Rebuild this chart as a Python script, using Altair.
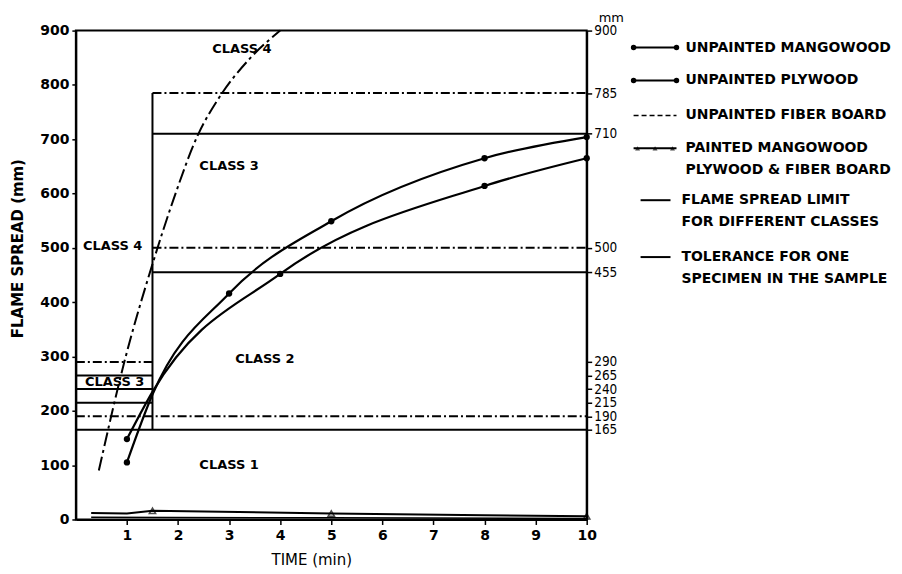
import altair as alt
import pandas as pd

# ---- data ----
mango_t = [1, 1.5, 3, 5, 8, 10]
mango_s = [105, 230, 416, 549, 665, 704]
mango_mark = [True, False, True, True, True, True]

ply_t = [1, 1.5, 4, 8, 10]
ply_s = [148, 235, 452, 614, 665]
ply_mark = [True, False, True, True, True]

fiber_t = [0.45, 0.96, 1.5, 1.9, 2.4, 2.8, 3.4, 4.0]
fiber_s = [90, 294, 470, 586, 710, 776, 848, 900]

painted_t = [0.3, 1, 1.5, 5, 8, 10]
painted_s = [12, 11, 16, 11, 8, 6]
painted_mark = [False, False, True, True, False, True]

painted2_t = [0.3, 5, 10]
painted2_s = [4, 3, 2]

limit_from = [0, 0, 0, 0, 1.5, 1.5]
limit_to = [10, 1.5, 1.5, 1.5, 10, 10]
limit_y = [165, 215, 240, 265, 455, 710]

tol_from = [0, 0, 1.5, 1.5]
tol_to = [10, 1.5, 10, 10]
tol_y = [190, 290, 500, 785]

vert_x = [1.5]
vert_y1 = [165]
vert_y2 = [785]

class_labels = ["CLASS 4", "CLASS 3", "CLASS 4", "CLASS 3", "CLASS 2", "CLASS 1"]
class_x = [3.25, 3.0, 0.72, 0.76, 3.7, 3.0]
class_y = [867, 650, 503, 253, 296, 100]

left_ticks = [0, 100, 200, 300, 400, 500, 600, 700, 800, 900]
right_ticks = [165, 190, 215, 240, 265, 290, 455, 500, 710, 785, 900]
x_ticks = [1, 2, 3, 4, 5, 6, 7, 8, 9, 10]

legend_labels = [
    ["UNPAINTED MANGOWOOD"],
    ["UNPAINTED PLYWOOD"],
    ["UNPAINTED FIBER BOARD"],
    ["PAINTED MANGOWOOD", "PLYWOOD & FIBER BOARD"],
    ["FLAME SPREAD LIMIT", "FOR DIFFERENT CLASSES"],
    ["TOLERANCE FOR ONE", "SPECIMEN IN THE SAMPLE"],
]

FONT = "DejaVu Sans"
W, H = 512, 490

xs = alt.Scale(domain=[0, 10], nice=False)
ys = alt.Scale(domain=[0, 900], nice=False)

XAX = alt.Axis(
    values=x_ticks, title="TIME (min)", grid=False, tickSize=5, labelPadding=4,
    labelFlush=False,
    labelFont=FONT, labelFontSize=14, labelFontWeight="bold", labelColor="black",
    titleFont=FONT, titleFontSize=15, titleFontWeight="normal", titleColor="black",
    titleX=236, titleY=40, titleBaseline="middle",
    domainColor="black", domainWidth=2, tickColor="black", tickWidth=1.5)

mango = pd.DataFrame({"t": mango_t, "s": mango_s, "m": mango_mark})
ply = pd.DataFrame({"t": ply_t, "s": ply_s, "m": ply_mark})
fiber = pd.DataFrame({"t": fiber_t, "s": fiber_s})
painted = pd.DataFrame({"t": painted_t, "s": painted_s, "m": painted_mark})
painted2 = pd.DataFrame({"t": painted2_t, "s": painted2_s})
limits = pd.DataFrame({"a": limit_from, "b": limit_to, "y": limit_y})
tols = pd.DataFrame({"a": tol_from, "b": tol_to, "y": tol_y})
verts = pd.DataFrame({"x": vert_x, "y1": vert_y1, "y2": vert_y2})
classes = pd.DataFrame({"x": class_x, "y": class_y, "label": class_labels})


def xq(field):
    return alt.X(f"{field}:Q", scale=xs, axis=XAX)


def yq(field):
    return alt.Y(f"{field}:Q", scale=ys, axis=None)


X = xq("t")
Y = yq("s")

# axes carrier layers
left_axis = alt.Chart(pd.DataFrame({"t": [0], "s": [0]})).mark_point(opacity=0).encode(
    x=X,
    y=alt.Y("s:Q", scale=ys, axis=alt.Axis(
        values=left_ticks, title="FLAME SPREAD (mm)", grid=False, tickSize=4, labelPadding=3,
        labelFont=FONT, labelFontSize=14, labelFontWeight="bold", labelColor="black",
        titleFont=FONT, titleFontSize=15, titleFontWeight="bold", titleColor="black",
        titleX=-58, titleY=218, titleBaseline="middle", titleAngle=270,
        domainColor="black", domainWidth=2, tickColor="black", tickWidth=1.5)),
)

right_axis = alt.Chart(pd.DataFrame({"t": [0], "s": [0]})).mark_point(opacity=0).encode(
    x=X,
    y=alt.Y("s:Q", scale=ys, axis=alt.Axis(
        orient="right", values=right_ticks, title=None, grid=False, tickSize=5,
        labelPadding=2, labelFont="DejaVu Sans Condensed", labelFontSize=13.5, labelFontWeight="normal",
        labelColor="black", labelOverlap=False, labelBound=False,
        domainColor="black", domainWidth=2, tickColor="black", tickWidth=1.5)),
)

limit_rules = alt.Chart(limits).mark_rule(color="black", strokeWidth=2).encode(
    x=xq("a"), x2="b:Q", y=yq("y"))
tol_rules = alt.Chart(tols).mark_rule(color="black", strokeWidth=2, strokeDash=[9, 3, 2, 3]).encode(
    x=xq("a"), x2="b:Q", y=yq("y"))
vert_rule = alt.Chart(verts).mark_rule(color="black", strokeWidth=2).encode(
    x=xq("x"), y=yq("y1"), y2="y2:Q")

mango_line = alt.Chart(mango).mark_line(color="black", strokeWidth=2.2, interpolate="monotone").encode(x=X, y=Y)
mango_pts = alt.Chart(mango).transform_filter("datum.m").mark_circle(color="black", size=40, opacity=1).encode(x=X, y=Y)
ply_line = alt.Chart(ply).mark_line(color="black", strokeWidth=2.2, interpolate="monotone").encode(x=X, y=Y)
ply_pts = alt.Chart(ply).transform_filter("datum.m").mark_circle(color="black", size=40, opacity=1).encode(x=X, y=Y)
fiber_line = alt.Chart(fiber).mark_line(color="black", strokeWidth=2, strokeDash=[14, 4, 3, 4], interpolate="monotone").encode(x=X, y=Y)
painted_line = alt.Chart(painted).mark_line(color="black", strokeWidth=2).encode(x=X, y=Y)
painted_pts = alt.Chart(painted).transform_filter("datum.m").mark_point(shape="triangle-up", color="black", size=40, filled=False, strokeWidth=1.5).encode(x=X, y=Y)
painted2_line = alt.Chart(painted2).mark_line(color="black", strokeWidth=1.5).encode(x=X, y=Y)

class_text = alt.Chart(classes).mark_text(font=FONT, fontSize=13, fontWeight="bold", color="black").encode(
    x=xq("x"), y=yq("y"), text="label:N")

one = pd.DataFrame({"k": [0]})
extras = [
    alt.Chart(one).mark_text(text="mm", font=FONT, fontSize=13, color="black", align="left",
                             baseline="middle").encode(x=alt.value(524), y=alt.value(-13)),
]

# legend
leg_rows = [17, 50, 85, 118, 170, 227]
LX1, LX2, TX = 559, 602, 611
for i, (lab, ry) in enumerate(zip(legend_labels, leg_rows)):
    x1 = LX1 if i < 4 else 566
    x2 = LX2 if i < 4 else 596
    tx = TX if i < 4 else 607
    if i == 2:
        rule = alt.Chart(one).mark_rule(color="black", strokeWidth=1.5, strokeDash=[5, 3]).encode(
            x=alt.value(x1), x2=alt.value(x2), y=alt.value(ry))
    else:
        rule = alt.Chart(one).mark_rule(color="black", strokeWidth=2).encode(
            x=alt.value(x1), x2=alt.value(x2), y=alt.value(ry))
    extras.append(rule)
    if i in (0, 1):
        for px in (x1, x2):
            extras.append(alt.Chart(one).mark_circle(color="black", size=30, opacity=1).encode(
                x=alt.value(px), y=alt.value(ry)))
    if i == 3:
        for px in (x1 + 4, (x1 + x2) / 2, x2 - 4):
            extras.append(alt.Chart(one).mark_point(shape="triangle-up", color="black", size=25, filled=True).encode(
                x=alt.value(px), y=alt.value(ry)))
    for j, line in enumerate(lab):
        extras.append(alt.Chart(one).mark_text(text=line, font=FONT, fontSize=14, fontWeight="bold",
                                               color="black", align="left", baseline="middle").encode(
            x=alt.value(tx), y=alt.value(ry + j * 22)))

chart = alt.layer(
    left_axis, right_axis, limit_rules, tol_rules, vert_rule,
    mango_line, mango_pts, ply_line, ply_pts, fiber_line,
    painted_line, painted_pts, painted2_line, class_text, *extras
).resolve_scale(y="independent").properties(
    width=W, height=H,
    autosize=alt.AutoSizeParams(type="none"),
    padding={"left": 68, "top": 22, "right": 308, "bottom": 50},
    background="white",
).configure_view(stroke="black", strokeWidth=2)

chart.save("out.html", embed_options={"renderer": "svg", "actions": False})
